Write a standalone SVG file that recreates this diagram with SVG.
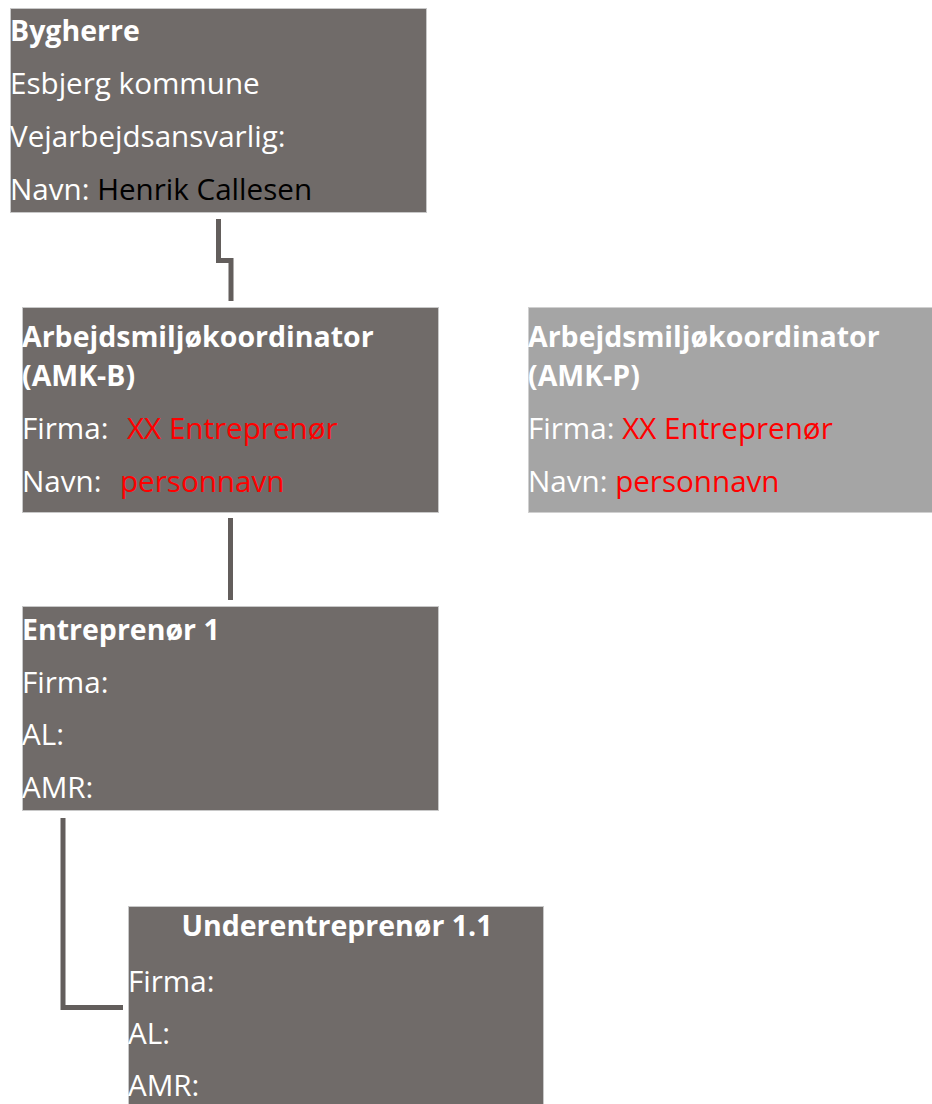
<svg xmlns="http://www.w3.org/2000/svg" width="932" height="1104" viewBox="0 0 932 1104">
<style>
.box{fill:#706b69;stroke:#c8c8c8;stroke-width:1}
.boxl{fill:#a5a5a5;stroke:#d0d0d0;stroke-width:1}
text{font-family:"Open Sans","Noto Sans",sans-serif;font-size:29.6px;fill:#ffffff}
.b{font-weight:bold;font-size:28.5px}
.red{fill:#ff0000}
.blk{fill:#000000}
.conn{fill:none;stroke:#635e5c;stroke-width:5;stroke-linejoin:miter}
</style>
<rect width="932" height="1104" fill="#ffffff"/>
<g id="connectors">
<path class="conn" d="M218.5 219 V260.5 H231 V301"/>
<path class="conn" d="M230.5 518 V600"/>
<path class="conn" d="M63 818 V1007.5 H123"/>
</g>
<g id="bygherre">
<rect class="box" x="10.5" y="8.5" width="416" height="204"/>
<text class="b" x="10" y="41">Bygherre</text>
<text x="10" y="94">Esbjerg kommune</text>
<text x="10" y="147">Vejarbejdsansvarlig:</text>
<text x="10" y="200">Navn: <tspan class="blk">Henrik Callesen</tspan></text>
</g>
<g id="amk-b">
<rect class="box" x="22.5" y="307.5" width="416" height="205"/>
<text class="b" x="22" y="347">Arbejdsmiljøkoordinator</text>
<text class="b" x="22" y="386">(AMK-B)</text>
<text x="22" y="439">Firma:</text>
<text class="red" x="127" y="439">XX Entreprenør</text>
<text x="22" y="492">Navn:</text>
<text class="red" x="120" y="492">personnavn</text>
</g>
<g id="amk-p">
<rect class="boxl" x="528.5" y="307.5" width="410" height="205"/>
<text class="b" x="528" y="347">Arbejdsmiljøkoordinator</text>
<text class="b" x="528" y="386">(AMK-P)</text>
<text x="528" y="439">Firma: <tspan class="red">XX Entreprenør</tspan></text>
<text x="528" y="492">Navn: <tspan class="red">personnavn</tspan></text>
</g>
<g id="entreprenor1">
<rect class="box" x="22.5" y="606.5" width="416" height="204"/>
<text class="b" x="22" y="640">Entreprenør 1</text>
<text x="22" y="693">Firma:</text>
<text x="22" y="745">AL:</text>
<text x="22" y="798">AMR:</text>
</g>
<g id="underentreprenor">
<rect class="box" x="128.5" y="906.5" width="415" height="205"/>
<text class="b" x="337" y="936" text-anchor="middle">Underentreprenør 1.1</text>
<text x="128" y="992">Firma:</text>
<text x="128" y="1044">AL:</text>
<text x="128" y="1096">AMR:</text>
</g>
</svg>
